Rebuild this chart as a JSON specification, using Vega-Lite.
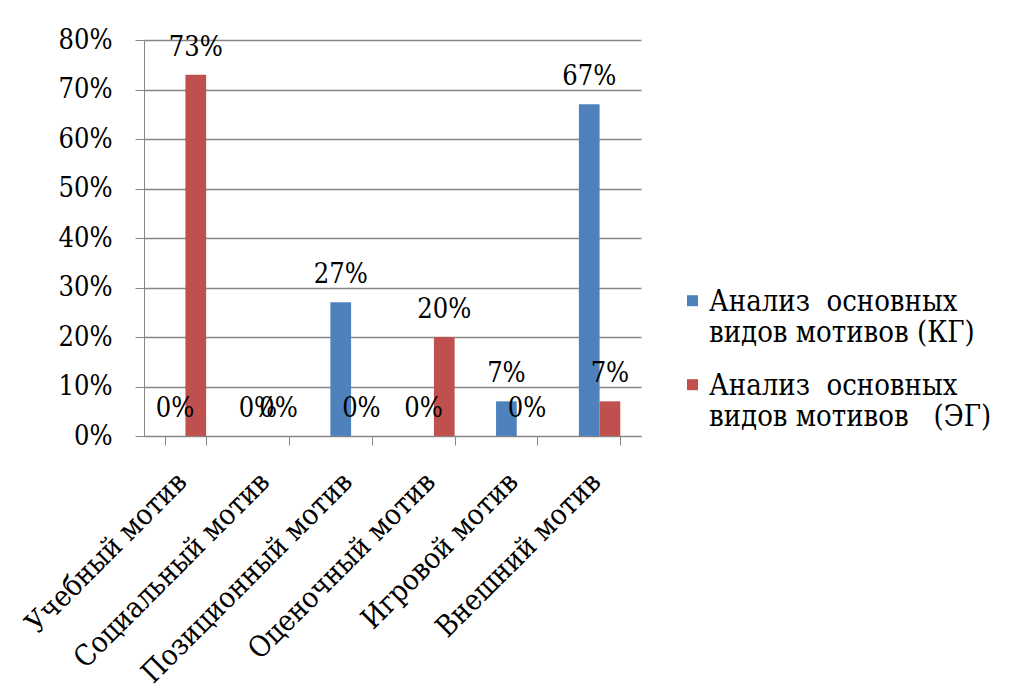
{
  "$schema": "https://vega.github.io/schema/vega-lite/v6.json",
  "autosize": {"type": "none"},
  "padding": {"left": 144, "top": 40, "right": 368, "bottom": 264},
  "width": 497,
  "height": 396,
  "background": "white",
  "data": {
    "values": [
      {"motive": "Учебный мотив", "group": "Анализ  основных видов мотивов (КГ)", "value": 0},
      {"motive": "Учебный мотив", "group": "Анализ  основных видов мотивов   (ЭГ)", "value": 0.73},
      {"motive": "Социальный мотив", "group": "Анализ  основных видов мотивов (КГ)", "value": 0},
      {"motive": "Социальный мотив", "group": "Анализ  основных видов мотивов   (ЭГ)", "value": 0},
      {"motive": "Позиционный мотив", "group": "Анализ  основных видов мотивов (КГ)", "value": 0.27},
      {"motive": "Позиционный мотив", "group": "Анализ  основных видов мотивов   (ЭГ)", "value": 0},
      {"motive": "Оценочный мотив", "group": "Анализ  основных видов мотивов (КГ)", "value": 0},
      {"motive": "Оценочный мотив", "group": "Анализ  основных видов мотивов   (ЭГ)", "value": 0.2},
      {"motive": "Игровой мотив", "group": "Анализ  основных видов мотивов (КГ)", "value": 0.07},
      {"motive": "Игровой мотив", "group": "Анализ  основных видов мотивов   (ЭГ)", "value": 0},
      {"motive": "Внешний мотив", "group": "Анализ  основных видов мотивов (КГ)", "value": 0.67},
      {"motive": "Внешний мотив", "group": "Анализ  основных видов мотивов   (ЭГ)", "value": 0.07}
    ]
  },
  "encoding": {
    "x": {
      "field": "motive",
      "type": "nominal",
      "sort": null,
      "scale": {"paddingInner": 0.5, "paddingOuter": 0.25},
      "axis": {
        "title": null,
        "labelAngle": -45,
        "labelAlign": "right",
        "labelBaseline": "middle",
        "labelPadding": 32,
        "labelOffset": -4,
        "labelFont": "DejaVu Serif Condensed",
        "labelFontSize": 29,
        "labelColor": "black",
        "labelLimit": 400,
        "tickBand": "extent",
        "tickSize": 9,
        "tickColor": "#868686",
        "domainColor": "#868686",
        "grid": false
      }
    },
    "xOffset": {"field": "group", "type": "nominal", "sort": ["Анализ  основных видов мотивов (КГ)", "Анализ  основных видов мотивов   (ЭГ)"]},
    "y": {
      "field": "value",
      "type": "quantitative",
      "scale": {"domain": [0, 0.8], "nice": false},
      "axis": {
        "title": null,
        "format": ".0%",
        "values": [0, 0.1, 0.2, 0.3, 0.4, 0.5, 0.6, 0.7, 0.8],
        "labelFont": "DejaVu Serif Condensed",
        "labelFontSize": 27,
        "labelColor": "black",
        "labelPadding": 23,
        "tickSize": 9,
        "tickColor": "#868686",
        "domainColor": "#868686",
        "gridColor": "#868686",
        "gridWidth": 1.3
      }
    }
  },
  "layer": [
    {
      "mark": {"type": "bar"},
      "encoding": {
        "color": {
          "field": "group",
          "type": "nominal",
          "scale": {"domain": ["Анализ  основных видов мотивов (КГ)", "Анализ  основных видов мотивов   (ЭГ)"], "range": ["#4F81BD", "#C0504D"]},
          "legend": {
            "title": null,
            "orient": "none",
            "legendX": 534,
            "legendY": 233,
            "symbolType": "M-1,1.4H1V3.4H-1Z",
            "symbolSize": 121,
            "symbolStrokeWidth": 0,
            "labelFont": "DejaVu Serif Condensed",
            "labelFontSize": 29,
            "labelColor": "black",
            "labelLimit": 400,
            "labelOffset": 2,
            "labelBaseline": "top",
            "labelLineHeight": 36,
            "rowPadding": 9,
            "labelExpr": "split(replace(replace(replace(datum.label, '   (', '\u00a0\u00a0 ('), '  о', '\u00a0 о'), ' видов', '|видов'), '|')"
          }
        }
      }
    },
    {
      "mark": {
        "type": "text",
        "baseline": "alphabetic",
        "dy": -19,
        "font": "DejaVu Serif Condensed",
        "fontSize": 27,
        "color": "black"
      },
      "encoding": {
        "text": {"field": "value", "type": "quantitative", "format": ".0%"}
      }
    }
  ],
  "config": {"view": {"stroke": null}}
}
